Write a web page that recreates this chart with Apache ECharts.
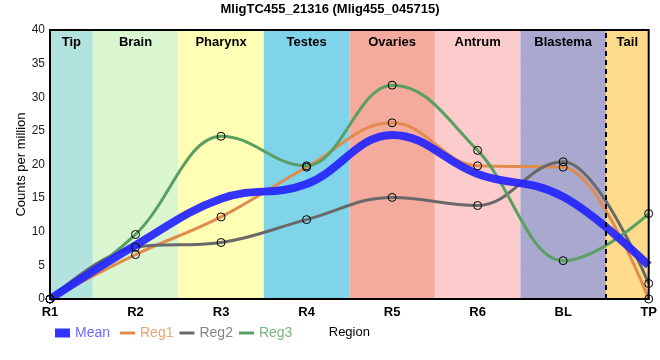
<!DOCTYPE html>
<html><head><meta charset="utf-8">
<script src="https://cdn.jsdelivr.net/npm/echarts@6/dist/echarts.min.js"></script>
<style>html,body{margin:0;padding:0;background:#fff}#c{width:660px;height:360px}</style>
</head><body><div id="c"></div>
<script>
const categories = ['R1','R2','R3','R4','R5','R6','BL','TP'];
const meanVals = [0, 8.0, 14.9, 17.1, 24.4, 18.6, 15.2, 5.0];
const reg1Vals = [0, 6.6, 12.2, 19.6, 26.2, 19.8, 19.6, 0];
const reg2Vals = [0, 7.7, 8.4, 11.8, 15.1, 13.9, 20.4, 2.3];
const reg3Vals = [0, 9.6, 24.2, 19.8, 31.8, 22.1, 5.7, 12.7];
const bandNames = ['Tip','Brain','Pharynx','Testes','Ovaries','Antrum','Blastema','Tail'];
const bandColors = ['#b3e3dd','#d9f6d0','#feffb4','#80d4ea','#f4aa9c','#fccbcc','#a9a8ce','#fddb8b'];
const yTicks = [0,5,10,15,20,25,30,35,40];

const n = categories.length;
const bandData = bandNames.map((name, i) => [
  {name: name, xAxis: Math.max(0, i - 0.5), itemStyle: {color: bandColors[i]}},
  {xAxis: Math.min(n - 1, i + 0.5)}
]);

// Spline path (control points at 0.4 of each segment, clamped to avoid false extremes)
function splinePath(pts){
  const m = pts.length;
  const sm = 1.5, den = sm + 1;
  const left = new Array(m), right = new Array(m);
  for (let i = 0; i < m; i++) {
    const [x, y] = pts[i];
    if (i === 0 || i === m - 1) { left[i] = [x, y]; right[i] = [x, y]; continue; }
    const [lx, ly] = pts[i-1], [nx, ny] = pts[i+1];
    const lcx = (sm * x + lx) / den, rcx = (sm * x + nx) / den;
    let lcy = (sm * y + ly) / den, rcy = (sm * y + ny) / den;
    let corr = 0;
    if (rcx !== lcx) corr = ((rcy - lcy) * (rcx - x)) / (rcx - lcx) + y - rcy;
    lcy += corr; rcy += corr;
    if (lcy > ly && lcy > y) { lcy = Math.max(ly, y); rcy = 2 * y - lcy; }
    else if (lcy < ly && lcy < y) { lcy = Math.min(ly, y); rcy = 2 * y - lcy; }
    if (rcy > ny && rcy > y) { rcy = Math.max(ny, y); lcy = 2 * y - rcy; }
    else if (rcy < ny && rcy < y) { rcy = Math.min(ny, y); lcy = 2 * y - rcy; }
    left[i] = [lcx, lcy]; right[i] = [rcx, rcy];
  }
  let d = 'M' + pts[0][0] + ',' + pts[0][1];
  for (let i = 1; i < m; i++) {
    d += 'C' + right[i-1][0] + ',' + right[i-1][1] + ',' + left[i][0] + ',' + left[i][1] + ',' + pts[i][0] + ',' + pts[i][1];
  }
  return d;
}

function curveSeries(id, vals, color, width, opacity, z){
  return {
    name: id, type:'custom', coordinateSystem:'cartesian2d', silent:true, z:z,
    data: vals.map((v, i) => [i, v]),
    encode: {x:0, y:1},
    renderItem: function(params, api){
      if (params.dataIndex !== 0) return null;
      const pts = vals.map((v, i) => api.coord([i, v]));
      return {
        type:'path',
        shape:{pathData: splinePath(pts)},
        style:{fill:'none', stroke:color, lineWidth:width, opacity:opacity, lineJoin:'round'}
      };
    }
  };
}

const regColors = {Reg1:'#e08c4e', Reg2:'#696969', Reg3:'#5a9f62'};
function markerSeries(name, vals){
  return {
    name, type:'line', data: vals,
    symbol:'circle', symbolSize: 8,
    itemStyle:{color:'rgba(0,0,0,0)', borderColor:'#000', borderWidth:1},
    lineStyle:{opacity:0, width:0},
    emphasis:{disabled:true}, z:6, silent:true
  };
}

const chart = echarts.init(document.getElementById('c'), null, {renderer:'canvas'});
chart.setOption({
  animation:false,
  textStyle:{fontFamily:'Liberation Sans, Arial, sans-serif'},
  title:{text:'MligTC455_21316 (Mlig455_045715)', left:'center', top:-2,
    textStyle:{fontSize:13, fontWeight:'bold', color:'#000'}},
  grid:{left:50, right:7, top:30, bottom:61, show:true, borderColor:'#000', borderWidth:2, backgroundColor:'transparent', z:4},
  legend:[
    {left:50, top:321, itemWidth:15, itemHeight:9, icon:'rect',
     textStyle:{fontSize:14}, selectedMode:false,
     data:[{name:'Mean', itemStyle:{color:'#3333ff', borderWidth:0}, textStyle:{color:'#6a6aff'}}]},
    {left:115, top:321, itemWidth:15, itemHeight:3, icon:'rect', itemGap:6,
     textStyle:{fontSize:14}, selectedMode:false,
     data:[
      {name:'Reg1', itemStyle:{color:regColors.Reg1, borderWidth:0}, textStyle:{color:'#eea475'}},
      {name:'Reg2', itemStyle:{color:regColors.Reg2, borderWidth:0}, textStyle:{color:'#858585'}},
      {name:'Reg3', itemStyle:{color:regColors.Reg3, borderWidth:0}, textStyle:{color:'#78b67e'}}
     ]}
  ],
  xAxis:[
    {type:'category', data:categories, boundaryGap:false,
     name:'Region', nameLocation:'middle', nameGap:27,
     nameTextStyle:{fontSize:13, color:'#000'},
     axisLine:{lineStyle:{color:'#000', width:2}},
     axisTick:{show:false},
     axisLabel:{fontSize:13, fontWeight:'bold', color:'#000', margin:7},
     splitLine:{show:true, lineStyle:{color:'#c8c8c8', width:1}}},
    {type:'value', min:0, max:n-1, show:false}
  ],
  yAxis:{type:'value', min:yTicks[0], max:yTicks[yTicks.length-1], interval:5,
    name:'Counts per million', nameLocation:'middle', nameGap:22, nameMoveOverlap:false,
    nameTextStyle:{fontSize:13, color:'#000'},
    axisLine:{show:true, lineStyle:{color:'#000', width:2}},
    axisTick:{show:false},
    axisLabel:{fontSize:12, color:'#222', margin:5},
    splitLine:{show:true, lineStyle:{color:'#c8c8c8', width:1}}},
  series:[
    {name:'bands', type:'line', xAxisIndex:1, data:[], z:-1, silent:true,
     markArea:{silent:true, itemStyle:{opacity:1},
       label:{show:true, position:'insideTop', distance:6, fontSize:13, fontWeight:'bold', color:'#000'},
       data: bandData},
     markLine:{silent:true, symbol:'none', label:{show:false},
       lineStyle:{color:'#000', width:2, type:[5,4]},
       data:[{xAxis: n - 1.5}]}},
    curveSeries('c_reg1', reg1Vals, regColors.Reg1, 3, 1, 2),
    curveSeries('c_reg2', reg2Vals, regColors.Reg2, 3, 1, 2),
    curveSeries('c_reg3', reg3Vals, regColors.Reg3, 3, 1, 2),
    curveSeries('Mean', meanVals, '#2424ff', 8, 0.92, 3),
    markerSeries('Reg1', reg1Vals),
    markerSeries('Reg2', reg2Vals),
    markerSeries('Reg3', reg3Vals)
  ]
});
</script></body></html>
